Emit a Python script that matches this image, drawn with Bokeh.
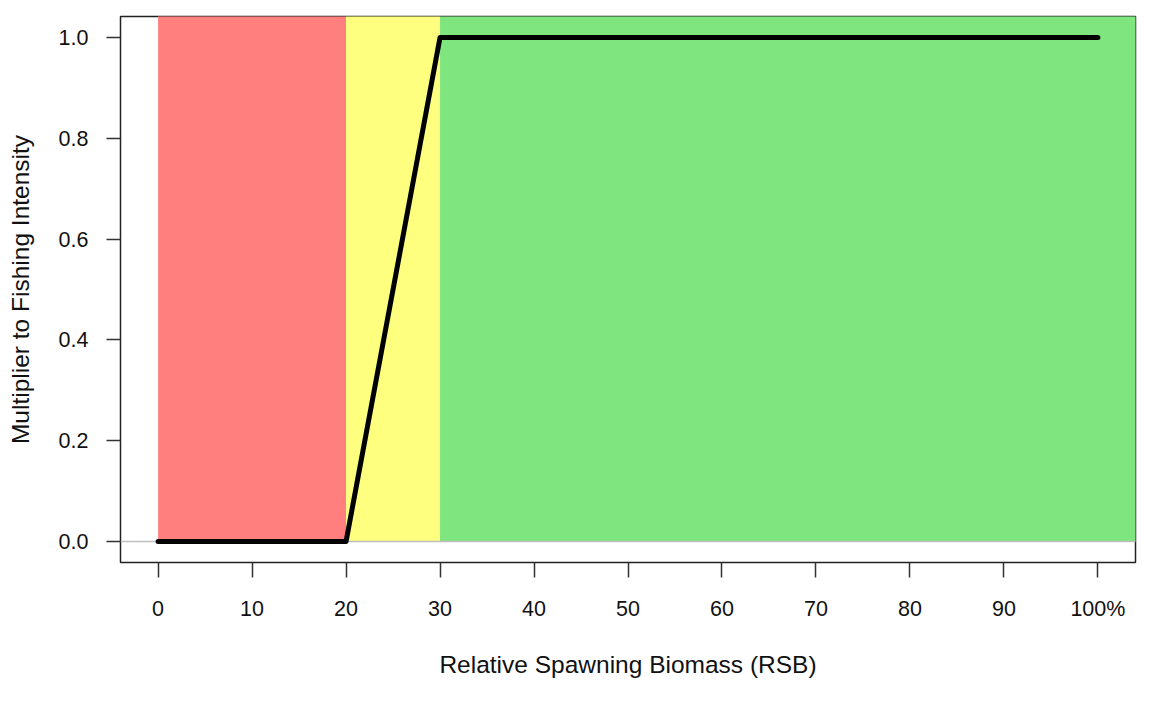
from bokeh.plotting import figure
from bokeh.models import Range1d, FixedTicker
from bokeh.embed import file_html
from bokeh.resources import INLINE

# Harvest control rule data
rsb = [0, 20, 30, 100]
multiplier = [0.0, 0.0, 1.0, 1.0]

zone_left = [0, 20, 30]
zone_right = [20, 30, 110]
zone_bottom = [0.0, 0.0, 0.0]
zone_top = [1.2, 1.2, 1.2]
zone_colors = ["#FF7F7F", "#FFFF7F", "#7FE67F"]

reference_level = [0.0]

x_ticks = [0, 10, 20, 30, 40, 50, 60, 70, 80, 90, 100]
x_tick_labels = ["0", "10", "20", "30", "40", "50", "60", "70", "80", "90", "100%"]
y_ticks = [0.0, 0.2, 0.4, 0.6, 0.8, 1.0]
y_tick_labels = ["0.0", "0.2", "0.4", "0.6", "0.8", "1.0"]

FONT = "Liberation Sans"

p = figure(width=1150, height=700, output_backend="svg", toolbar_location=None,
           x_range=Range1d(-4, 104), y_range=Range1d(-0.0417, 1.0417),
           min_border_left=120, min_border_right=15, min_border_top=16, min_border_bottom=138)

p.background_fill_color = "white"
p.border_fill_color = "white"
p.outline_line_color = "#222222"
p.outline_line_width = 1.5
p.grid.visible = False

p.quad(left=zone_left, right=zone_right, bottom=zone_bottom, top=zone_top,
       fill_color=zone_colors, line_color=None)

p.hspan(y=reference_level, line_color="#BEBEBE", line_width=1.5)

p.line(rsb, multiplier, line_color="black", line_width=5, line_cap="round", line_join="round")

# X axis
xa = p.xaxis[0]
xa.ticker = FixedTicker(ticks=x_ticks)
xa.major_label_overrides = {t: l for t, l in zip(x_ticks, x_tick_labels)}
xa.axis_line_color = None
xa.major_tick_in = 0
xa.major_tick_out = 15
xa.major_tick_line_color = "#333333"
xa.major_tick_line_width = 1.5
xa.minor_tick_line_color = None
xa.major_label_text_font = FONT
xa.major_label_text_font_size = "21.5px"
xa.major_label_text_color = "#111111"
xa.major_label_standoff = 19
xa.axis_label = "Relative Spawning Biomass (RSB)"
xa.axis_label_text_font = FONT
xa.axis_label_text_font_size = "24.5px"
xa.axis_label_text_font_style = "normal"
xa.axis_label_text_color = "#111111"
xa.axis_label_standoff = 27

# Y axis
ya = p.yaxis[0]
ya.ticker = FixedTicker(ticks=y_ticks)
ya.major_label_overrides = {t: l for t, l in zip(y_ticks, y_tick_labels)}
ya.axis_line_color = None
ya.major_tick_in = 0
ya.major_tick_out = 14
ya.major_tick_line_color = "#333333"
ya.major_tick_line_width = 1.5
ya.minor_tick_line_color = None
ya.major_label_text_font = FONT
ya.major_label_text_font_size = "21.5px"
ya.major_label_text_color = "#111111"
ya.major_label_standoff = 18
ya.major_label_orientation = "horizontal"
ya.axis_label = "Multiplier to Fishing Intensity"
ya.axis_label_text_font = FONT
ya.axis_label_text_font_size = "24.5px"
ya.axis_label_text_font_style = "normal"
ya.axis_label_text_color = "#111111"
ya.axis_label_standoff = 22

open("out.html", "w").write(file_html(p, INLINE))
